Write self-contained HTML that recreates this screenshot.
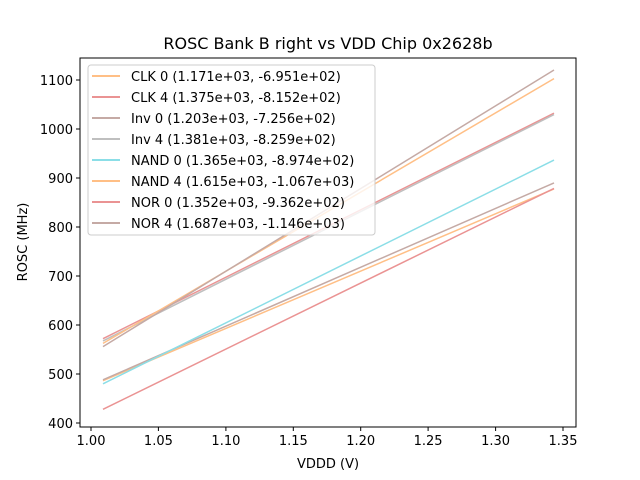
<!DOCTYPE html>
<html><head><meta charset="utf-8"><style>
body{margin:0;background:#fff}
svg{display:block;font-family:"DejaVu Sans","Liberation Sans",sans-serif}
</style></head><body>
<svg width="640" height="480" viewBox="0 0 640 480">
<rect width="640" height="480" fill="#fff"/>
<text x="328" y="49" font-size="16" text-anchor="middle">ROSC Bank B right vs VDD Chip 0x2628b</text>
<g stroke-width="1.5" fill="none">
<line x1="103" y1="380.7" x2="554" y2="188.9" stroke="#ffbf86"/>
<line x1="103" y1="338.7" x2="554" y2="113.2" stroke="#ea9393"/>
<line x1="103" y1="379.8" x2="554" y2="182.9" stroke="#c5aaa5"/>
<line x1="103" y1="340.9" x2="554" y2="114.6" stroke="#bfbfbf"/>
<line x1="103" y1="383.8" x2="554" y2="160.1" stroke="#8bdee7"/>
<line x1="103" y1="343.4" x2="554" y2="78.6" stroke="#ffbf86"/>
<line x1="103" y1="409.3" x2="554" y2="188.4" stroke="#ea9393"/>
<line x1="103" y1="346.6" x2="554" y2="70.0" stroke="#c5aaa5"/>
</g>
<rect x="80" y="58" width="496" height="369" fill="none" stroke="#000" stroke-width="1"/>
<g stroke="#000" stroke-width="1">
<line x1="91" y1="427" x2="91" y2="431"/><line x1="158.4" y1="427" x2="158.4" y2="431"/><line x1="225.9" y1="427" x2="225.9" y2="431"/><line x1="293.3" y1="427" x2="293.3" y2="431"/><line x1="360.7" y1="427" x2="360.7" y2="431"/><line x1="428.1" y1="427" x2="428.1" y2="431"/><line x1="495.6" y1="427" x2="495.6" y2="431"/><line x1="563" y1="427" x2="563" y2="431"/>
<line x1="76" y1="423" x2="80" y2="423"/><line x1="76" y1="374" x2="80" y2="374"/><line x1="76" y1="325" x2="80" y2="325"/><line x1="76" y1="276" x2="80" y2="276"/><line x1="76" y1="227" x2="80" y2="227"/><line x1="76" y1="178" x2="80" y2="178"/><line x1="76" y1="129" x2="80" y2="129"/><line x1="76" y1="80" x2="80" y2="80"/>
</g>
<g font-size="13" text-anchor="middle">
<text x="91" y="445">1.00</text><text x="158.4" y="445">1.05</text><text x="225.9" y="445">1.10</text><text x="293.3" y="445">1.15</text><text x="360.7" y="445">1.20</text><text x="428.1" y="445">1.25</text><text x="495.6" y="445">1.30</text><text x="563" y="445">1.35</text>
</g>
<g font-size="13" text-anchor="end">
<text x="73" y="428">400</text><text x="73" y="379">500</text><text x="73" y="330">600</text><text x="73" y="281">700</text><text x="73" y="232">800</text><text x="73" y="183">900</text><text x="73" y="134">1000</text><text x="73" y="85">1100</text>
</g>
<text x="328" y="468" font-size="13" text-anchor="middle">VDDD (V)</text>
<text transform="translate(27,242) rotate(-90)" font-size="13" text-anchor="middle">ROSC (MHz)</text>
<rect x="88" y="65" width="287" height="170" rx="3" fill="#fff" fill-opacity="0.8" stroke="#ccc"/>
<g stroke-width="2">
<line x1="92" y1="76" x2="120" y2="76" stroke="#ffbf86"/>
<line x1="92" y1="97" x2="120" y2="97" stroke="#ea9393"/>
<line x1="92" y1="118" x2="120" y2="118" stroke="#c5aaa5"/>
<line x1="92" y1="139" x2="120" y2="139" stroke="#bfbfbf"/>
<line x1="92" y1="160" x2="120" y2="160" stroke="#8bdee7"/>
<line x1="92" y1="181" x2="120" y2="181" stroke="#ffbf86"/>
<line x1="92" y1="202" x2="120" y2="202" stroke="#ea9393"/>
<line x1="92" y1="223" x2="120" y2="223" stroke="#c5aaa5"/>
</g>
<g font-size="13">
<text x="131" y="81">CLK 0 (1.171e+03, -6.951e+02)</text>
<text x="131" y="102">CLK 4 (1.375e+03, -8.152e+02)</text>
<text x="131" y="123">Inv 0 (1.203e+03, -7.256e+02)</text>
<text x="131" y="144">Inv 4 (1.381e+03, -8.259e+02)</text>
<text x="131" y="165">NAND 0 (1.365e+03, -8.974e+02)</text>
<text x="131" y="186">NAND 4 (1.615e+03, -1.067e+03)</text>
<text x="131" y="207">NOR 0 (1.352e+03, -9.362e+02)</text>
<text x="131" y="228">NOR 4 (1.687e+03, -1.146e+03)</text>
</g>
</svg>
</body></html>
